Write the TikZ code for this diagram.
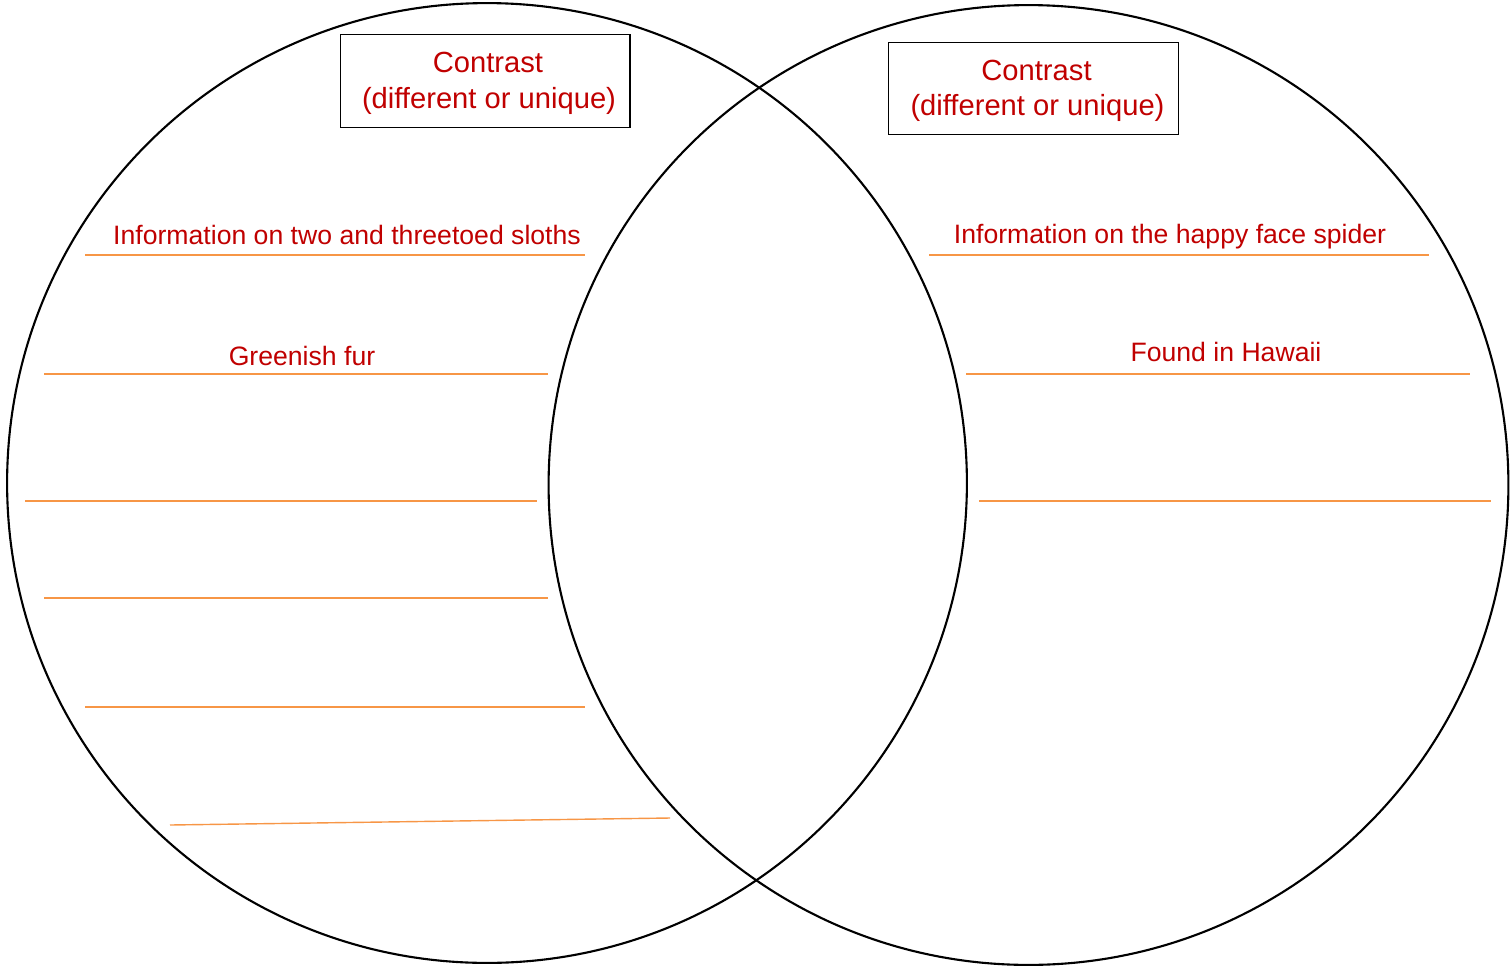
\documentclass[tikz,border=0pt]{standalone}
\usepackage{fontspec}
\setmainfont{Liberation Sans}
\usepackage{tikz}
\usetikzlibrary{positioning}
\definecolor{labelred}{HTML}{C00000}
\definecolor{lineorange}{HTML}{F79646}
\tikzstyle{set} = [circle, draw, line width=1.2pt, minimum size=19.2cm, inner sep=0pt]
\tikzstyle{header} = [rectangle, draw, line width=0.6pt, text=labelred, align=center,
minimum width=5.8cm, minimum height=1.85cm, font=\fontsize{16.6}{20.4}\selectfont]
\tikzstyle{fact} = [text=labelred, inner sep=0pt, font=\fontsize{15.15}{18}\selectfont]
\tikzstyle{rule} = [draw=lineorange, line width=0.8pt]
\newcommand{\contrasttext}{\hspace*{0.12cm}\rule{0pt}{14.2pt}Contrast\\ \hspace*{0.16cm}(different or unique)}

\begin{document}
\begin{tikzpicture}[x=0.02cm,y=-0.02cm]
    \useasboundingbox (0,0) rectangle (1511,967);

         \node (leftset)  [set] at (487,483) {};
         \node (rightset) [set] at (1028.5,485) {};

         \node (leftbox)  [header] at (485,81)    {\contrasttext};
         \node (rightbox) [header] at (1033.5,88.5) {\contrasttext};

         % left side
         \node (sloths) [fact] at (347,235) {Information on two and threetoed sloths};
         \node (fur)    [fact] at (302,356) {Greenish fur};
         \coordinate (l1a) at (85,255);  \coordinate (l1b) at (585,255);
         \coordinate (l2a) at (44,374);  \coordinate (l2b) at (548,374);
         \coordinate (l3a) at (25,501);  \coordinate (l3b) at (537,501);
         \coordinate (l4a) at (44,598);  \coordinate (l4b) at (548,598);
         \coordinate (l5a) at (85,707);  \coordinate (l5b) at (585,707);
         \coordinate (l6a) at (170,825); \coordinate (l6b) at (670,818);

         % right side
         \node (spider) [fact] at (1170,237) {Information on the happy face spider};
         \node (hawaii) [fact] at (1226,352) {Found in Hawaii};
         \coordinate (r1a) at (929,255);  \coordinate (r1b) at (1429,255);
         \coordinate (r2a) at (966,374);  \coordinate (r2b) at (1470,374);
         \coordinate (r3a) at (979,501);  \coordinate (r3b) at (1491,501);

         \foreach \n in {l1,l2,l3,l4,l5,l6,r1,r2,r3}
             \path [rule] (\n a) -- (\n b);

     \end{tikzpicture}
\end{document}
